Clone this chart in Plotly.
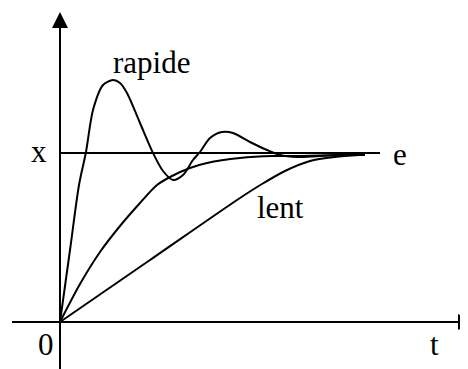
import plotly.graph_objects as go

# Curves (t, value), origin at axes crossing
t_rapide = [0, 10, 19, 26, 33, 43, 53, 60, 67, 80, 93, 103, 113, 123, 133, 140, 150, 162, 173, 190, 207, 220, 237, 260, 290, 305]
y_rapide = [0, 72, 137, 170, 212, 237, 242, 239, 229, 199, 169, 151, 142, 147, 162, 170, 184, 190, 189, 180, 172, 167, 165, 166, 167, 167]

t_moyen = [0, 20, 40, 60, 80, 97, 112, 130, 147, 180, 213, 240, 280, 302]
y_moyen = [0, 38, 70, 96, 119, 137, 146, 154, 159, 164, 166, 166, 167, 167]

t_lent = [0, 90, 180, 202, 225, 250, 275, 300]
y_lent = [0, 62, 124, 138, 151, 161, 165, 167]

t_consigne = [0, 320]
y_consigne = [169, 169]

labels = ["rapide", "x", "e", "lent", "0", "t"]

FONT = "Liberation Serif, Times New Roman, serif"

fig = go.Figure()

# axes
fig.add_trace(go.Scatter(x=[0, 0], y=[-60, 300], mode="lines",
                         line=dict(color="black", width=2), hoverinfo="skip"))
fig.add_trace(go.Scatter(x=[-48, 405], y=[0, 0], mode="lines",
                         line=dict(color="black", width=2), hoverinfo="skip"))
fig.add_trace(go.Scatter(x=[0], y=[310], mode="markers", cliponaxis=False,
                         marker=dict(symbol="arrow-up", size=16, color="black",
                                     line=dict(width=0))))
fig.add_trace(go.Scatter(x=[414], y=[0], mode="markers", cliponaxis=False,
                         marker=dict(symbol="arrow-right", size=16, color="black",
                                     line=dict(width=0))))

# set-point line
fig.add_trace(go.Scatter(x=t_consigne, y=y_consigne, mode="lines",
                         line=dict(color="black", width=2)))

for tx, ty in [(t_rapide, y_rapide), (t_moyen, y_moyen), (t_lent, y_lent)]:
    fig.add_trace(go.Scatter(x=tx, y=ty, mode="lines",
                             line=dict(color="black", width=2, shape="spline", smoothing=0.8)))

pos = [(91, 73), (-21, 162), (340, 165), (220, 218), (-14, 355), (374, 355)]
for txt, (px, base) in zip(labels, pos):
    fig.add_annotation(x=px, y=322 - (base - 10.5), text=txt, showarrow=False,
                       xanchor="center", yanchor="middle",
                       font=dict(family=FONT, size=31, color="black"))

# page body has an 8px margin: shift the ranges so the drawing lands in place
fig.update_layout(width=468, height=369, margin=dict(l=0, r=0, t=0, b=0),
                  plot_bgcolor="white", paper_bgcolor="white", showlegend=False,
                  xaxis=dict(visible=False, range=[-52, 416], fixedrange=True),
                  yaxis=dict(visible=False, range=[-55, 314], fixedrange=True))

fig.write_html("out.html")
